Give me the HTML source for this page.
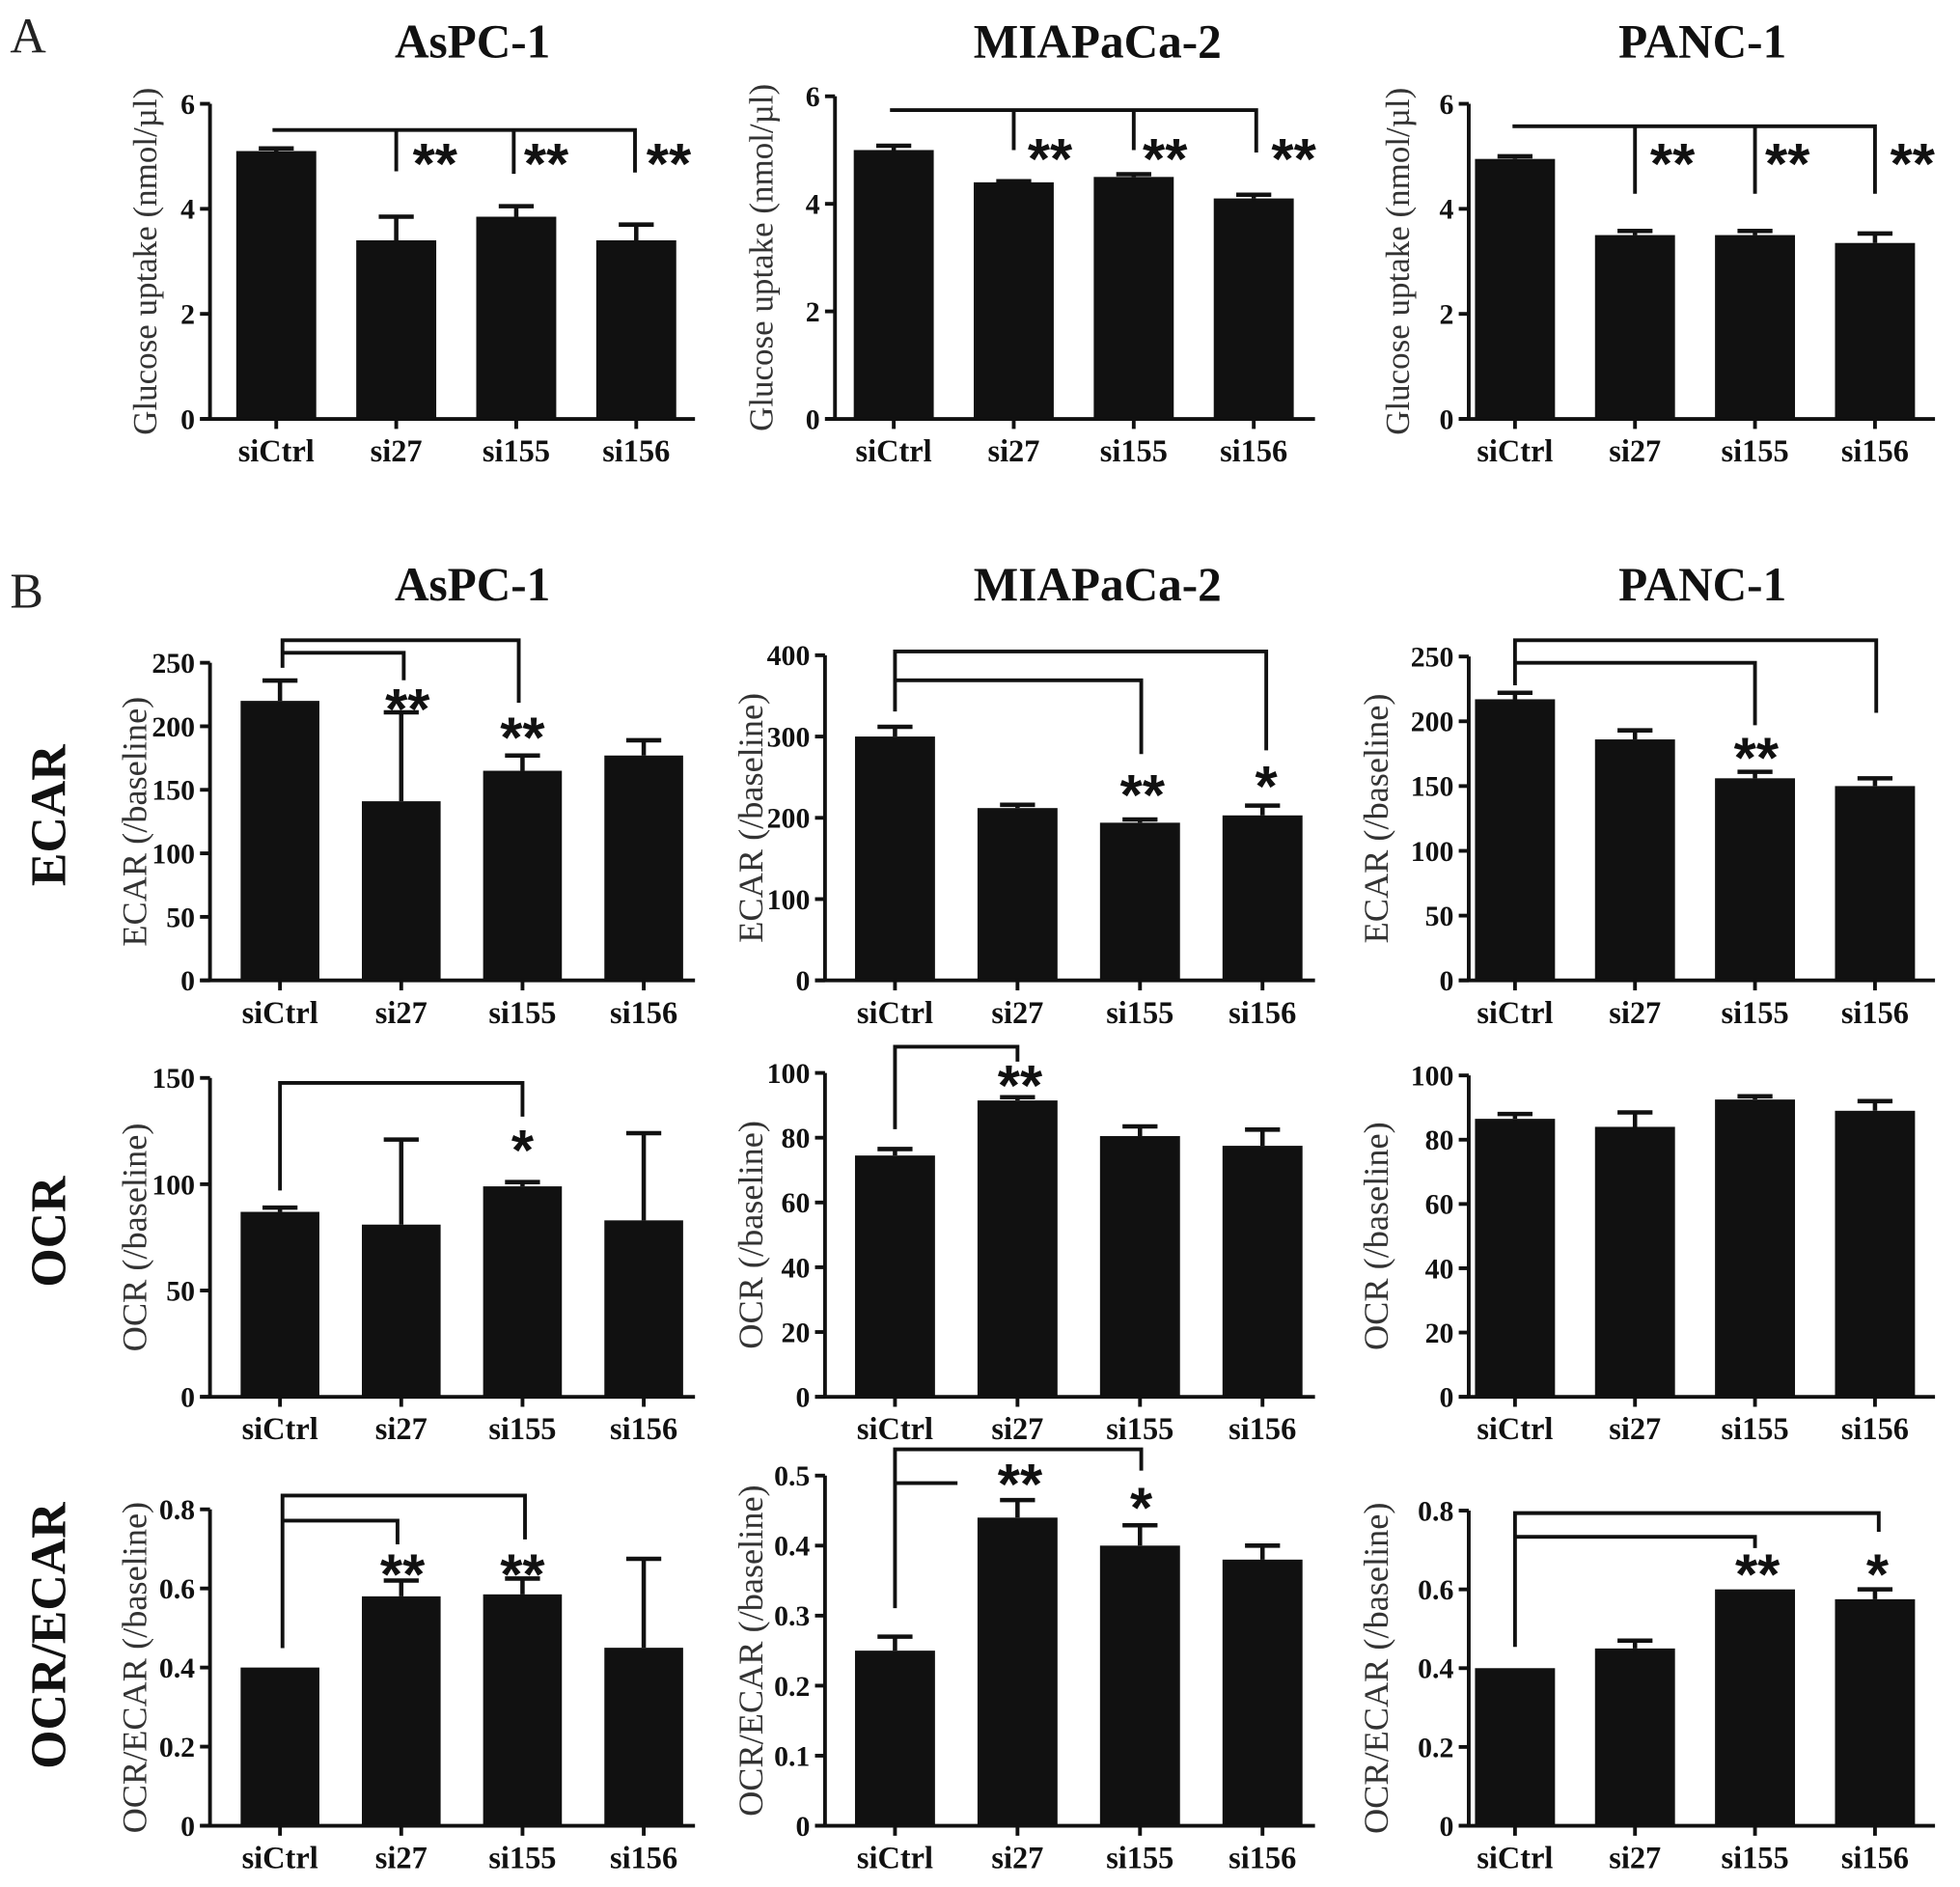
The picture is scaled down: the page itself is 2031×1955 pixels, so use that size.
<!DOCTYPE html>
<html><head><meta charset="utf-8">
<style>
html,body{margin:0;padding:0;background:#fff;}
svg{display:block;}
text{font-family:"Liberation Serif",serif;}
</style></head>
<body>
<svg id="fig" width="2031" height="1955" viewBox="0 0 1568 1509" preserveAspectRatio="none" xmlns="http://www.w3.org/2000/svg">
<g id="static">
<text x="8" y="42" font-size="40" fill="#222">A</text>
<text x="8" y="486" font-size="40" fill="#222">B</text>
<text x="378" y="46" font-size="38" font-weight="bold" text-anchor="middle" fill="#111">AsPC-1</text>
<text x="878" y="46" font-size="38" font-weight="bold" text-anchor="middle" fill="#111">MIAPaCa-2</text>
<text x="1362" y="46" font-size="38" font-weight="bold" text-anchor="middle" fill="#111">PANC-1</text>
<text x="378" y="480" font-size="38" font-weight="bold" text-anchor="middle" fill="#111">AsPC-1</text>
<text x="878" y="480" font-size="38" font-weight="bold" text-anchor="middle" fill="#111">MIAPaCa-2</text>
<text x="1362" y="480" font-size="38" font-weight="bold" text-anchor="middle" fill="#111">PANC-1</text>
<text transform="translate(52,652) rotate(-90)" font-size="40" font-weight="bold" text-anchor="middle" fill="#111">ECAR</text>
<text transform="translate(52,985) rotate(-90)" font-size="40" font-weight="bold" text-anchor="middle" fill="#111">OCR</text>
<text transform="translate(52,1308) rotate(-90)" font-size="40" font-weight="bold" text-anchor="middle" fill="#111">OCR/ECAR</text>
</g>
</svg>
<script>
const categories = ["siCtrl","si27","si155","si156"];
// Panel A: glucose uptake
const glucAspcValues = [5.1, 3.4, 3.85, 3.4];
const glucAspcErrors = [0.05, 0.45, 0.2, 0.3];
const glucMiaValues = [5.0, 4.4, 4.5, 4.1];
const glucMiaErrors = [0.08, 0.02, 0.05, 0.07];
const glucPancValues = [4.95, 3.5, 3.5, 3.35];
const glucPancErrors = [0.05, 0.08, 0.08, 0.18];
const glucTicks = [0, 2, 4, 6];
// ECAR
const ecarAspcValues = [220, 141, 165, 177];
const ecarAspcErrors = [16, 70, 12, 12];
const ecarMiaValues = [300, 212, 194, 203];
const ecarMiaErrors = [12, 4, 4, 12];
const ecarPancValues = [217, 186, 156, 150];
const ecarPancErrors = [5, 7, 5, 6];
const ecar250Ticks = [0, 50, 100, 150, 200, 250];
const ecar400Ticks = [0, 100, 200, 300, 400];
// OCR
const ocrAspcValues = [87, 81, 99, 83];
const ocrAspcErrors = [2, 40, 2, 41];
const ocrMiaValues = [74.5, 91.5, 80.5, 77.5];
const ocrMiaErrors = [2, 1, 3, 5];
const ocrPancValues = [86.5, 84, 92.5, 89];
const ocrPancErrors = [1.5, 4.5, 1, 3];
const ocr150Ticks = [0, 50, 100, 150];
const ocr100Ticks = [0, 20, 40, 60, 80, 100];
// OCR/ECAR
const ratioAspcValues = [0.40, 0.58, 0.585, 0.45];
const ratioAspcErrors = [0, 0.04, 0.04, 0.225];
const ratioMiaValues = [0.25, 0.44, 0.40, 0.38];
const ratioMiaErrors = [0.02, 0.025, 0.029, 0.02];
const ratioPancValues = [0.40, 0.45, 0.60, 0.575];
const ratioPancErrors = [0, 0.02, 0, 0.025];
const ratio08Ticks = [0, 0.2, 0.4, 0.6, 0.8];
const ratio05Ticks = [0, 0.1, 0.2, 0.3, 0.4, 0.5];

const NS = "http://www.w3.org/2000/svg";
const svg = document.getElementById("fig");
const STAR_FS = 46;
function mk(tag, attrs, parent){
  const e = document.createElementNS(NS, tag);
  for (const k in attrs) e.setAttribute(k, attrs[k]);
  (parent||svg).appendChild(e);
  return e;
}
function fmt(v){ return (Math.abs(v) < 1 && v !== 0) ? v.toFixed(1) : String(v); }

function panel(p){
  const g = mk("g", {});
  
  
  const yMax = p.ticks[p.ticks.length-1];
  const ys = v => p.base - (v / yMax) * (p.base - p.top);
  const xs = i => p.c0 + i * p.step;
  p.values.forEach((v, i) => {
    const b = mk("rect", {x: xs(i) - p.bw/2, y: ys(v), width: p.bw, height: p.base - ys(v), fill: "#111"}, g);
    
    
    const e = p.errs[i];
    if (e > 0) {
      const eb = mk("path", {d: `M${xs(i)},${ys(v)} V${ys(v+e)} M${xs(i)-14},${ys(v+e)} H${xs(i)+14}`, stroke: "#111", "stroke-width": 3.5, fill: "none"}, g);
      
      
    }
  });
  const ax = mk("path", {d: `M${p.ax},${p.top} V${p.base} M${p.ax-8},${p.base} H${p.xEnd}`, stroke: "#111", "stroke-width": 3, fill: "none"}, g);
  
  
  p.ticks.forEach(t => {
    const tk = mk("line", {x1: p.ax-8, x2: p.ax, y1: ys(t), y2: ys(t), stroke: "#111", "stroke-width": 3}, g);
    
    
    const tl = mk("text", {x: p.ax-12, y: ys(t)+8, "font-size": 23, "font-weight": "bold", "text-anchor": "end", fill: "#111"}, g);
    tl.textContent = fmt(t);
    
    
  });
  categories.forEach((c, i) => {
    const tk = mk("line", {x1: xs(i), x2: xs(i), y1: p.base, y2: p.base+8, stroke: "#111", "stroke-width": 3}, g);
    
    
    const tl = mk("text", {x: xs(i), y: p.base+34, "font-size": 25, "font-weight": "bold", "text-anchor": "middle", fill: "#111"}, g);
    tl.textContent = c;
    
    
  });
  const yl = mk("text", {transform: `translate(${p.ylx},${(p.top+p.base)/2}) rotate(-90)`, "font-size": p.ylfs, "text-anchor": "middle", fill: "#333"}, g);
  yl.textContent = p.ylabel;
  
  
  (p.brackets||[]).forEach(d => {
    const br = mk("path", {d: d, stroke: "#111", "stroke-width": 3, fill: "none"}, g);
    
    
  });
  (p.stars||[]).forEach(s => {
    const st = mk("text", {x: s[0], y: s[1] + 0.47*STAR_FS, "font-size": STAR_FS, "font-weight": "bold", "text-anchor": "middle", fill: "#111", style: "font-family:'Liberation Sans',sans-serif"}, g);
    st.textContent = s[2];
    
    
  });
}

const GL = "Glucose uptake (nmol/\u00b5l)";
panel({name:"glucose-aspc1", ax:168, xEnd:556, top:83, base:335, c0:221, step:96, bw:64, ticks:glucTicks, values:glucAspcValues, errs:glucAspcErrors, ylx:125, ylfs:27, ylabel:GL,
  brackets:["M218,104 H508 V138 M317,104 V137 M411,104 V139"], stars:[[348,125,"**"],[437,125,"**"],[535,125,"**"]]});
panel({name:"glucose-miapaca2", ax:668, xEnd:1052, top:77, base:335, c0:715, step:96, bw:64, ticks:glucTicks, values:glucMiaValues, errs:glucMiaErrors, ylx:618, ylfs:27, ylabel:GL,
  brackets:["M712,88 H1005 V122 M811,88 V120 M907,88 V120"], stars:[[840,121,"**"],[932,121,"**"],[1035,121,"**"]]});
panel({name:"glucose-panc1", ax:1175, xEnd:1548, top:83, base:335, c0:1212, step:96, bw:64, ticks:glucTicks, values:glucPancValues, errs:glucPancErrors, ylx:1127, ylfs:27, ylabel:GL,
  brackets:["M1210,101 H1500 V155 M1308,101 V155 M1404,101 V155"], stars:[[1338,125,"**"],[1430,125,"**"],[1530,125,"**"]]});

panel({name:"ecar-aspc1", ax:168, xEnd:556, top:530, base:784, c0:224, step:97, bw:63, ticks:ecar250Ticks, values:ecarAspcValues, errs:ecarAspcErrors, ylx:117, ylfs:28, ylabel:"ECAR (/baseline)",
  brackets:["M226,534 V512 H415 V562 M226,522 H323 V544"], stars:[[326,561,"**"],[418,584,"**"]]});
panel({name:"ecar-miapaca2", ax:660, xEnd:1052, top:524, base:784, c0:716, step:98, bw:64, ticks:ecar400Ticks, values:ecarMiaValues, errs:ecarMiaErrors, ylx:610, ylfs:28, ylabel:"ECAR (/baseline)",
  brackets:["M716,569 V521 H1013 V600 M716,544 H913 V603"], stars:[[914,630,"**"],[1013,623,"*"]]});
panel({name:"ecar-panc1", ax:1175, xEnd:1548, top:525, base:784, c0:1212, step:96, bw:64, ticks:ecar250Ticks, values:ecarPancValues, errs:ecarPancErrors, ylx:1110, ylfs:28, ylabel:"ECAR (/baseline)",
  brackets:["M1212,548 V512 H1501 V570 M1212,530 H1404 V580"], stars:[[1405,600,"**"]]});

panel({name:"ocr-aspc1", ax:168, xEnd:556, top:862, base:1117, c0:224, step:97, bw:63, ticks:ocr150Ticks, values:ocrAspcValues, errs:ocrAspcErrors, ylx:117, ylfs:28, ylabel:"OCR (/baseline)",
  brackets:["M224,952 V866 H418 V893"], stars:[[418,914,"*"]]});
panel({name:"ocr-miapaca2", ax:660, xEnd:1052, top:858, base:1117, c0:716, step:98, bw:64, ticks:ocr100Ticks, values:ocrMiaValues, errs:ocrMiaErrors, ylx:610, ylfs:28, ylabel:"OCR (/baseline)",
  brackets:["M716,903 V837 H814 V849"], stars:[[816,862,"**"]]});
panel({name:"ocr-panc1", ax:1175, xEnd:1548, top:860, base:1117, c0:1212, step:96, bw:64, ticks:ocr100Ticks, values:ocrPancValues, errs:ocrPancErrors, ylx:1110, ylfs:28, ylabel:"OCR (/baseline)"});

panel({name:"ratio-aspc1", ax:168, xEnd:556, top:1207, base:1460, c0:224, step:97, bw:63, ticks:ratio08Ticks, values:ratioAspcValues, errs:ratioAspcErrors, ylx:117, ylfs:28, ylabel:"OCR/ECAR (/baseline)",
  brackets:["M226,1318 V1196 H420 V1231 M226,1216 H318 V1235"], stars:[[322,1253,"**"],[418,1253,"**"]]});
panel({name:"ratio-miapaca2", ax:660, xEnd:1052, top:1180, base:1460, c0:716, step:98, bw:64, ticks:ratio05Ticks, values:ratioMiaValues, errs:ratioMiaErrors, ylx:610, ylfs:28, ylabel:"OCR/ECAR (/baseline)",
  brackets:["M716,1286 V1159 H913 V1176 M716,1186 H766"], stars:[[816,1181,"**"],[913,1200,"*"]]});
panel({name:"ratio-panc1", ax:1175, xEnd:1548, top:1208, base:1460, c0:1212, step:96, bw:64, ticks:ratio08Ticks, values:ratioPancValues, errs:ratioPancErrors, ylx:1110, ylfs:28, ylabel:"OCR/ECAR (/baseline)",
  brackets:["M1212,1317 V1210 H1503 V1225 M1212,1229 H1404 V1238"], stars:[[1406,1253,"**"],[1502,1253,"*"]]});
</script>
</body></html>
